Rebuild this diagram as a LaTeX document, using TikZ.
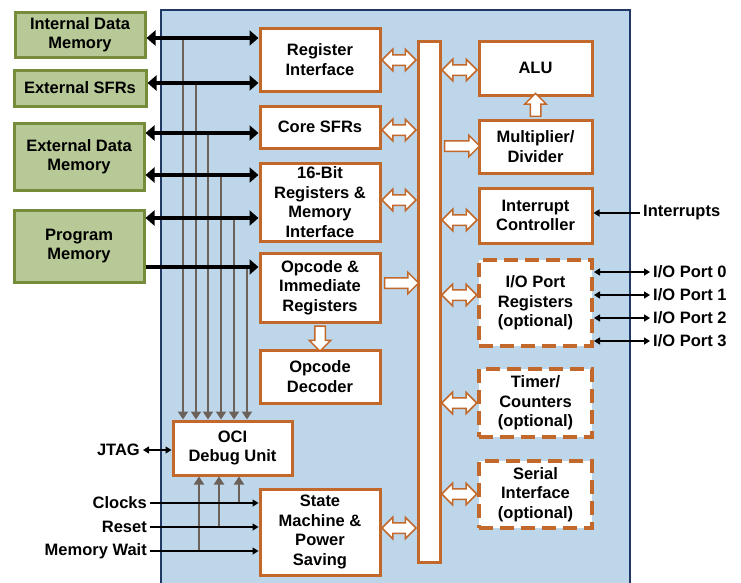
\documentclass[tikz,border=0pt]{standalone}
\usepackage{fontspec}
\setmainfont{Liberation Sans}
\usetikzlibrary{arrows.meta,shapes.arrows,calc}
\definecolor{panel}{RGB}{189,214,233}
\definecolor{navy}{RGB}{31,56,100}
\definecolor{leaf}{RGB}{183,201,150}
\definecolor{olive}{RGB}{118,140,58}
\definecolor{rust}{RGB}{194,104,42}
\definecolor{taupe}{RGB}{108,98,90}

\begin{document}
\begin{tikzpicture}[x=1pt,y=-1pt,
  font=\bfseries\fontsize{16.5}{19.5}\selectfont,
  mem/.style={draw=olive,fill=leaf,line width=3pt,align=center,inner sep=0pt},
  blk/.style={draw=rust,fill=white,line width=3pt,align=center,inner sep=0pt},
  opt/.style={blk,dash pattern=on 14pt off 7pt,line width=4pt},
  fatboth/.style={double arrow,draw=rust,fill=white,line width=1.5pt,inner xsep=0pt,
    inner ysep=4.5pt,double arrow head extend=5.5pt},
  fatone/.style={single arrow,draw=rust,fill=white,line width=1.5pt,inner xsep=0pt,
    inner ysep=4.5pt,single arrow head extend=5.5pt},
  membus/.style={line width=4pt,{Triangle[length=9pt,width=15pt]}-{Triangle[length=9pt,width=15pt]}},
  tap/.style={draw=taupe,line width=2.2pt,-{Triangle[length=8pt,width=10pt]}},
  sig/.style={line width=1.4pt,-{Triangle[length=6pt,width=7pt]}},
  sig2/.style={line width=1.4pt,{Triangle[length=6pt,width=7pt]}-{Triangle[length=6pt,width=7pt]}},
  lbl/.style={inner sep=3pt}]
  \useasboundingbox (0,0) rectangle (741,582);

  % core outline
  \fill[panel] (161,10) rectangle (630,600);
  \draw[navy,line width=2.5pt] (161,600) |- (630,10) -- (630,600);

  % memories
  \node[mem,minimum width=130pt,minimum height=45pt] (idm) at (80,34.5) {Internal Data\\Memory};
  \node[mem,minimum width=132pt,minimum height=36pt] (esfr) at (80,88) {External SFRs};
  \node[mem,minimum width=130pt,minimum height=67pt] (edm) at (79,156.5) {External Data\\Memory};
  \node[mem,minimum width=130pt,minimum height=72pt] (pm) at (79,246) {Program\\Memory};

  % left column
  \node[blk,minimum width=120pt,minimum height=63pt] (ri) at (320,59.5) {Register\\Interface};
  \node[blk,minimum width=120pt,minimum height=42pt] (csfr) at (320,127) {Core SFRs};
  \node[blk,minimum width=120pt,minimum height=78pt] (bit) at (320,202) {16-Bit\\Registers \&\\Memory\\Interface};
  \node[blk,minimum width=120pt,minimum height=69pt] (opc) at (320,287.5) {Opcode \&\\Immediate\\Registers};
  \node[blk,minimum width=120pt,minimum height=53pt] (dec) at (320,376.5) {Opcode\\Decoder};
  \node[blk,minimum width=119pt,minimum height=54pt] (oci) at (232.5,448) {OCI\\Debug Unit};
  \node[blk,minimum width=120pt,minimum height=86pt] (sm) at (320,532) {State\\Machine \&\\Power\\Saving};

  % internal bus
  \node[blk,minimum width=22pt,minimum height=521pt] (bus) at (429,301.5) {};

  % right column
  \node[blk,minimum width=113pt,minimum height=54pt] (alu) at (535.5,68) {ALU};
  \node[blk,minimum width=113pt,minimum height=53pt] (mul) at (535.5,146.5) {Multiplier/\\Divider};
  \node[blk,minimum width=113pt,minimum height=55pt] (intc) at (535.5,215.5) {Interrupt\\Controller};
  \node[opt,minimum width=113pt,minimum height=86pt] (io) at (535.5,303) {I/O Port\\Registers\\(optional)};
  \node[opt,minimum width=113pt,minimum height=68pt] (tmr) at (535.5,403) {Timer/\\Counters\\(optional)};
  \node[opt,minimum width=113pt,minimum height=67pt] (ser) at (535.5,494.5) {Serial\\Interface\\(optional)};

  % outside signals
  \node[lbl,anchor=east] (jtag) at (143,450) {JTAG};
  \node[lbl,anchor=east] (clk) at (150,503) {Clocks};
  \node[lbl,anchor=east] (rst) at (150,527) {Reset};
  \node[lbl,anchor=east] (mw) at (150,551) {Memory Wait};
  \node[lbl,anchor=west] (irq) at (640,213) {Interrupts};
  \foreach \n/\yy in {0/272,1/295,2/318,3/341}
    \node[lbl,anchor=west] (p\n) at (650,\yy) {I/O Port \n};

  % debug taps
  \foreach \xx/\yy in {183/38,196/83,208/133,221/175,234/218,247/267}
    \draw[tap] (\xx,\yy) -- (\xx,0 |- oci.north);
  \foreach \xx/\lab in {199/mw,219/rst,239/clk}
    \draw[tap] (\xx,0 |- \lab.east) -- (\xx,0 |- oci.south);

  % memory buses
  \draw[membus] (idm.east |- 0,38) -- (ri.west |- 0,38);
  \draw[membus] (esfr.east |- 0,83) -- (ri.west |- 0,83);
  \draw[membus] (edm.east |- 0,133) -- (csfr.west |- 0,133);
  \draw[membus] (edm.east |- 0,175) -- (bit.west |- 0,175);
  \draw[membus] (pm.east |- 0,218) -- (bit.west |- 0,218);
  \draw[line width=4pt,-{Triangle[length=9pt,width=15pt]}] (pm.east |- 0,267) -- (opc.west |- 0,267);

  % thin signals
  \draw[sig2] (jtag.east) -- (oci.west |- jtag.east);
  \foreach \lab in {clk,rst,mw}
    \draw[sig] (\lab.east) -- (sm.west |- \lab.east);
  \draw[sig] (irq.west) -- (intc.east |- irq.west);
  \foreach \n in {0,1,2,3}
    \draw[sig2] (io.east |- p\n.west) -- (p\n.west);

  % fat links to the bus
  \foreach \b/\yy in {ri/60,csfr/130,bit/200,sm/528}
    \node[fatboth,minimum height=34pt] at ($(\b.east |- 0,\yy)!.5!(bus.west |- 0,\yy)$) {};
  \foreach \b/\yy in {alu/70,intc/220,io/295,tmr/403,ser/494}
    \node[fatboth,minimum height=35pt] at ($(bus.east |- 0,\yy)!.5!(\b.west |- 0,\yy)$) {};
  \node[fatone,minimum height=34pt] at ($(opc.east |- 0,283)!.5!(bus.west |- 0,283)$) {};
  \node[fatone,minimum height=35pt] at ($(bus.east |- 0,146)!.5!(mul.west |- 0,146)$) {};
  \node[fatone,minimum height=23pt,rotate=90] at ($(mul.north)!.5!(alu.south)$) {};
  \node[fatone,minimum height=25pt,rotate=-90] at ($(opc.south)!.5!(dec.north)$) {};
\end{tikzpicture}
\end{document}
